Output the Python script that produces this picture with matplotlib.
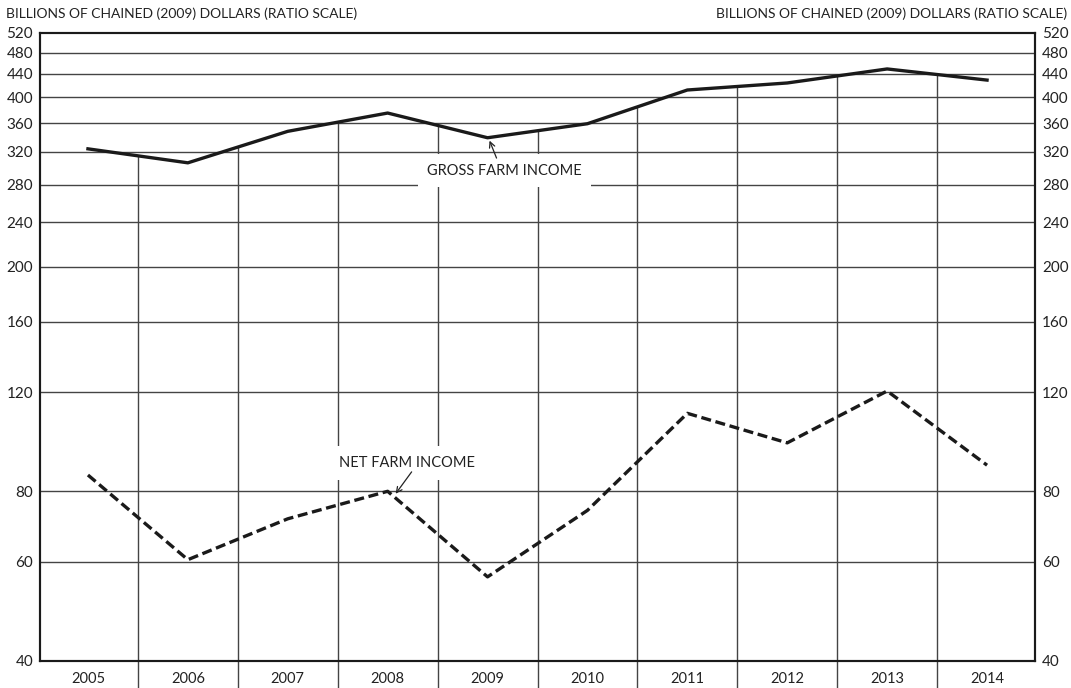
import numpy as np
import matplotlib.pyplot as plt
from matplotlib.ticker import FixedLocator, NullFormatter, NullLocator

plt.rcParams['font.family'] = ['Lato', 'DejaVu Sans']

years = [2005, 2006, 2007, 2008, 2009, 2010, 2011, 2012, 2013, 2014]
gross = [324, 306, 348, 375, 339, 359, 412, 424, 449, 429]
net = [85.5, 60.5, 71.5, 80, 56.4, 74, 110, 97.5, 120.5, 89]
yticks = [40, 60, 80, 120, 160, 200, 240, 280, 320, 360, 400, 440, 480, 520]

fig = plt.figure(figsize=(10.71, 6.88), dpi=100)
ax = fig.add_axes([40/1071, 27/688, 995/1071, 628/688])

ax.set_yscale('log')
ax.set_ylim(40, 520)
ax.set_xlim(2004.52, 2014.48)

# horizontal grid
for v in yticks[1:-1]:
    ax.axhline(v, color='#444444', lw=1, zorder=1)

# vertical separators: from bottom up to the gross income line
bounds = np.arange(2005.5, 2014.5, 1.0)
top = np.exp(np.interp(bounds, years, np.log(gross)))
ax.vlines(bounds, 40, top, color='#444444', lw=1, zorder=1)

ax.plot(years, gross, color='#1a1a1a', lw=2.4, zorder=3)
ax.plot(years, net, color='#1a1a1a', lw=2.4, ls=(0, (3, 1.4)), zorder=3)

ax.yaxis.set_major_locator(FixedLocator(yticks))
ax.yaxis.set_minor_locator(NullLocator())
ax.yaxis.set_major_formatter(plt.FixedFormatter([str(v) for v in yticks]))
ax.yaxis.set_minor_formatter(NullFormatter())
ax.tick_params(axis='y', length=0, pad=5, labelsize=11, labelcolor='#222222')

ax.set_xticks(years)
ax.set_xticklabels([str(y) for y in years])
ax.set_xticks(bounds, minor=True)
ax.tick_params(axis='x', which='major', length=0, pad=8, labelsize=10.5, labelcolor='#222222')
ax.tick_params(axis='x', which='minor', length=20, width=1, color='#444444', direction='out')

ax2 = ax.twinx()
ax2.set_yscale('log')
ax2.set_ylim(40, 520)
ax2.yaxis.set_major_locator(FixedLocator(yticks))
ax2.yaxis.set_minor_locator(NullLocator())
ax2.yaxis.set_major_formatter(plt.FixedFormatter([str(v) for v in yticks]))
ax2.yaxis.set_minor_formatter(NullFormatter())
ax2.tick_params(axis='y', length=0, pad=5, labelsize=11, labelcolor='#222222')

for a in (ax, ax2):
    for s in a.spines.values():
        s.set_linewidth(1.5)
        s.set_color('#1a1a1a')

# labels with white boxes covering the grid, arrows drawn on top
ax.text(2009.17, 296, 'GROSS FARM INCOME', ha='center', va='center',
        fontsize=10.5, color='#222222', zorder=4,
        bbox=dict(boxstyle='square,pad=0.65', fc='white', ec='none'))
ax.annotate('', xy=(2009.02, 335), xytext=(2009.09, 312), zorder=5,
            arrowprops=dict(arrowstyle='->', color='#222222', lw=0.9,
                            shrinkA=0, shrinkB=0))

ax.text(2008.19, 89.8, 'NET FARM INCOME', ha='center', va='center',
        fontsize=10.5, color='#222222', zorder=4,
        bbox=dict(boxstyle='square,pad=0.7', fc='white', ec='none'))
ax.annotate('', xy=(2008.08, 79.2), xytext=(2008.24, 86.6), zorder=5,
            arrowprops=dict(arrowstyle='->', color='#222222', lw=0.9,
                            shrinkA=0, shrinkB=0))

fig.text(6/1071, 1 - 14/688, 'BILLIONS OF CHAINED (2009) DOLLARS (RATIO SCALE)',
         ha='left', va='center', fontsize=10, color='#222222')
fig.text(1067/1071, 1 - 14/688, 'BILLIONS OF CHAINED (2009) DOLLARS (RATIO SCALE)',
         ha='right', va='center', fontsize=10, color='#222222')

fig.savefig('out.png', dpi=100)
